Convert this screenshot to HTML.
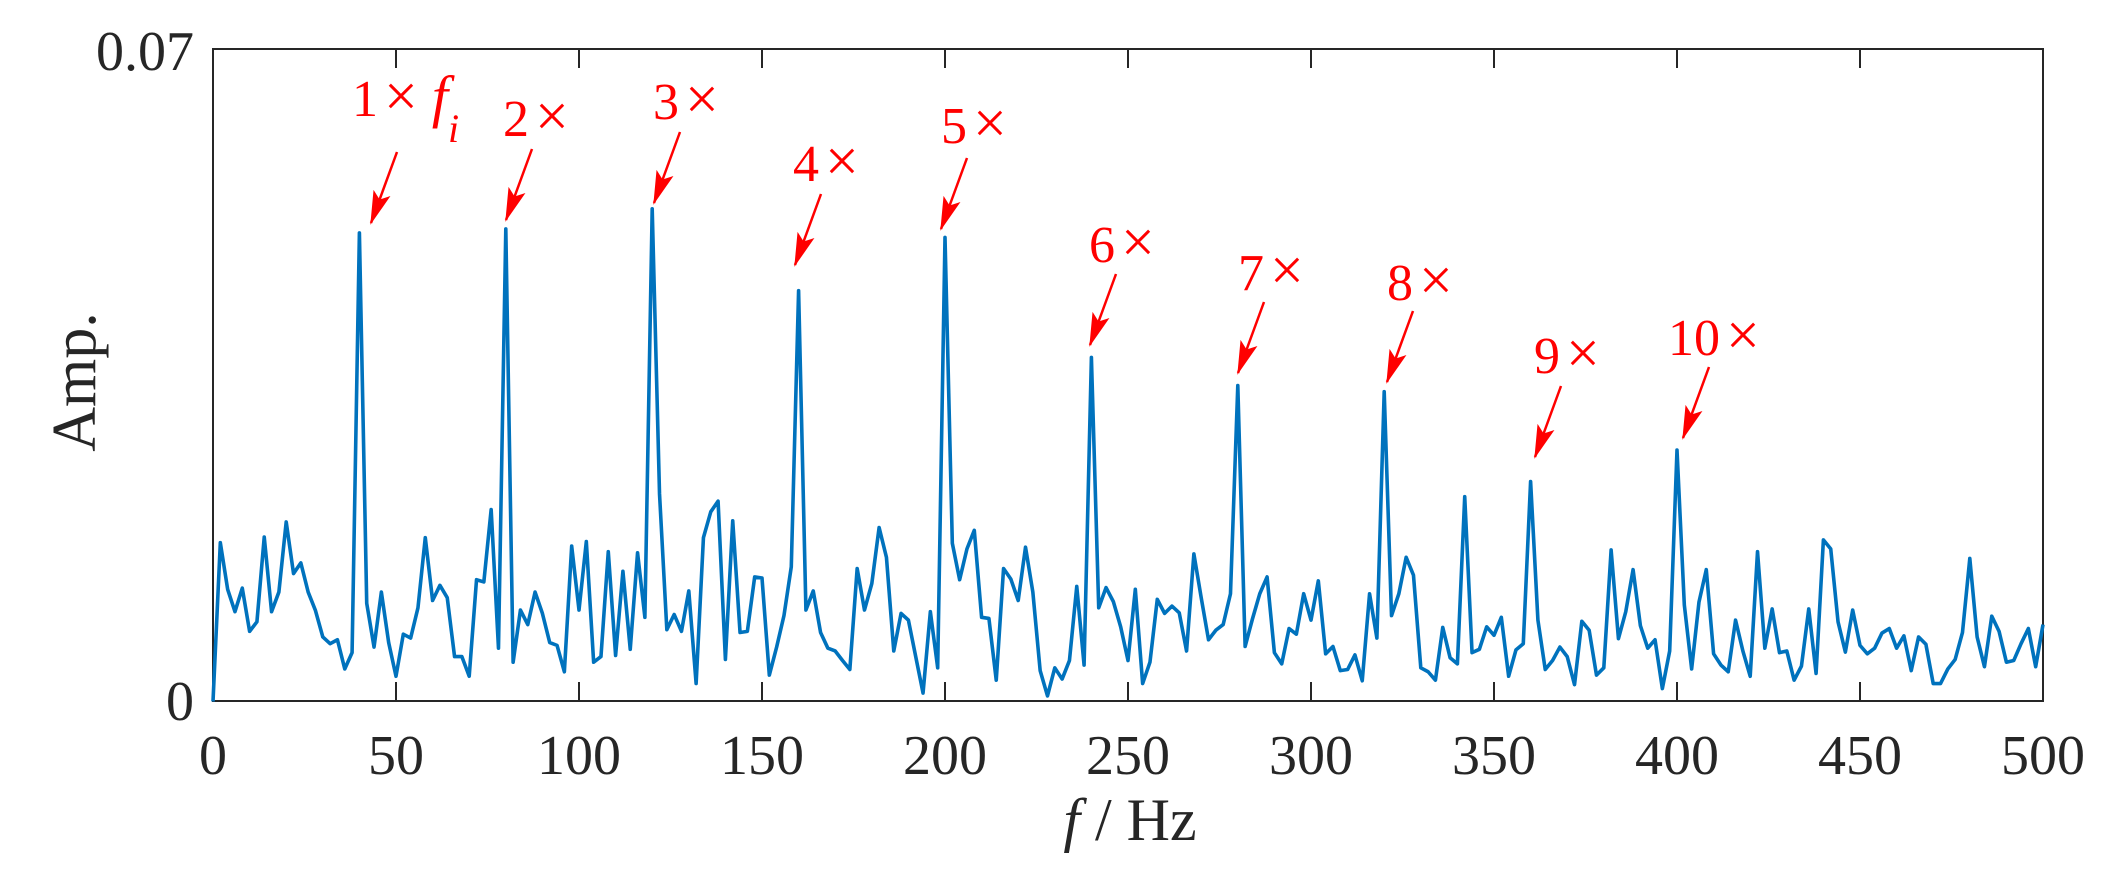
<!DOCTYPE html>
<html><head><meta charset="utf-8"><style>
html,body{margin:0;padding:0;background:#fff;}
svg{display:block;}
text{font-family:"Liberation Serif","Times New Roman",serif;}
</style></head><body>
<svg width="2112" height="880" viewBox="0 0 2112 880" xmlns="http://www.w3.org/2000/svg">
<defs>
<marker id="ah" markerWidth="34" markerHeight="18" refX="32" refY="9" orient="auto" markerUnits="userSpaceOnUse">
<path d="M0,0 L34,9 L0,18 L7,9 Z" fill="#ff0000"/>
</marker>
</defs>
<rect x="213" y="49" width="1830" height="652" fill="none" stroke="#262626" stroke-width="2"/>
<g stroke="#262626" stroke-width="2">
<line x1="396" y1="701" x2="396" y2="682"/><line x1="579" y1="701" x2="579" y2="682"/><line x1="762" y1="701" x2="762" y2="682"/><line x1="945" y1="701" x2="945" y2="682"/><line x1="1128" y1="701" x2="1128" y2="682"/><line x1="1311" y1="701" x2="1311" y2="682"/><line x1="1494" y1="701" x2="1494" y2="682"/><line x1="1677" y1="701" x2="1677" y2="682"/><line x1="1860" y1="701" x2="1860" y2="682"/>
<line x1="396" y1="49" x2="396" y2="68"/><line x1="579" y1="49" x2="579" y2="68"/><line x1="762" y1="49" x2="762" y2="68"/><line x1="945" y1="49" x2="945" y2="68"/><line x1="1128" y1="49" x2="1128" y2="68"/><line x1="1311" y1="49" x2="1311" y2="68"/><line x1="1494" y1="49" x2="1494" y2="68"/><line x1="1677" y1="49" x2="1677" y2="68"/><line x1="1860" y1="49" x2="1860" y2="68"/>
</g>
<g transform="translate(213,0) scale(3.66,0.5612)">
<polyline fill="none" stroke="#0072BD" stroke-width="3.6" vector-effect="non-scaling-stroke" stroke-linejoin="round" points="0,1250 2,967 4,1050 6,1090 8,1048 10,1125 12,1108 14,957 16,1090 18,1055 20,930 22,1022 24,1003 26,1055 28,1088 30,1135 32,1147 34,1140 36,1192 38,1163 40,415 42,1075 44,1153 46,1055 48,1145 50,1205 52,1130 54,1137 56,1083 58,958 60,1070 62,1043 64,1065 66,1170 68,1170 70,1205 72,1033 74,1037 76,908 78,1155 80,408 82,1180 84,1087 86,1113 88,1055 90,1093 92,1145 94,1150 96,1197 98,973 100,1087 102,965 104,1180 106,1170 108,983 110,1168 112,1018 114,1157 116,985 118,1100 120,372 122,880 124,1122 126,1095 128,1125 130,1053 132,1218 134,958 136,912 138,893 140,1175 142,928 144,1127 146,1125 148,1028 150,1030 152,1203 154,1153 156,1097 158,1010 160,518 162,1087 164,1053 166,1127 168,1155 170,1160 172,1177 174,1193 176,1013 178,1087 180,1040 182,940 184,993 186,1160 188,1093 190,1105 192,1170 194,1235 196,1090 198,1190 200,423 202,968 204,1033 206,978 208,945 210,1100 212,1102 214,1212 216,1013 218,1032 220,1070 222,975 224,1055 226,1195 228,1240 230,1190 232,1210 234,1177 236,1045 238,1185 240,637 242,1083 244,1047 246,1072 248,1117 250,1177 252,1050 254,1218 256,1180 258,1068 260,1093 262,1080 264,1092 266,1160 268,987 270,1065 272,1140 274,1123 276,1113 278,1058 280,687 282,1152 284,1103 286,1058 288,1028 290,1163 292,1183 294,1120 296,1130 298,1058 300,1105 302,1035 304,1165 306,1152 308,1195 310,1193 312,1167 314,1213 316,1058 318,1137 320,698 322,1097 324,1058 326,993 328,1025 330,1190 332,1197 334,1212 336,1118 338,1172 340,1183 342,885 344,1163 346,1157 348,1117 350,1132 352,1100 354,1205 356,1158 358,1147 360,858 362,1105 364,1193 366,1177 368,1153 370,1170 372,1220 374,1107 376,1123 378,1203 380,1190 382,980 384,1138 386,1090 388,1015 390,1115 392,1155 394,1140 396,1227 398,1160 400,802 402,1078 404,1192 406,1073 408,1015 410,1165 412,1185 414,1197 416,1105 418,1160 420,1205 422,983 424,1155 426,1085 428,1163 430,1160 432,1212 434,1187 436,1085 438,1200 440,962 442,978 444,1108 446,1162 448,1087 450,1150 452,1165 454,1155 456,1128 458,1120 460,1155 462,1133 464,1195 466,1135 468,1148 470,1218 472,1218 474,1192 476,1175 478,1127 480,995 482,1135 484,1188 486,1098 488,1125 490,1180 492,1177 494,1147 496,1120 498,1188 500,1113"/>
</g>
<g fill="#262626" font-size="56">
<text x="194" y="70" text-anchor="end">0.07</text>
<text x="194" y="720" text-anchor="end">0</text>
<g text-anchor="middle">
<text x="213" y="774">0</text><text x="396" y="774">50</text><text x="579" y="774">100</text><text x="762" y="774">150</text><text x="945" y="774">200</text><text x="1128" y="774">250</text><text x="1311" y="774">300</text><text x="1494" y="774">350</text><text x="1677" y="774">400</text><text x="1860" y="774">450</text><text x="2043" y="774">500</text>
</g>
<text x="0" y="0" transform="translate(95,382) rotate(-90)" text-anchor="middle" font-size="62">Amp.</text>
<text x="1130" y="840" text-anchor="middle" font-size="60"><tspan font-style="italic">f</tspan> /  Hz</text>
</g>
<g fill="#ff0000" font-size="52">
<text x="352" y="116">1<tspan dx="6" font-size="60">×</tspan><tspan dx="14" font-style="italic" font-size="58">f</tspan><tspan font-style="italic" font-size="40" dy="26">i</tspan></text>
<text x="503" y="136">2<tspan dx="6" font-size="60">×</tspan></text>
<text x="653" y="119">3<tspan dx="6" font-size="60">×</tspan></text>
<text x="793" y="181">4<tspan dx="6" font-size="60">×</tspan></text>
<text x="941" y="143">5<tspan dx="6" font-size="60">×</tspan></text>
<text x="1089" y="262">6<tspan dx="6" font-size="60">×</tspan></text>
<text x="1238" y="290">7<tspan dx="6" font-size="60">×</tspan></text>
<text x="1387" y="300">8<tspan dx="6" font-size="60">×</tspan></text>
<text x="1534" y="373">9<tspan dx="6" font-size="60">×</tspan></text>
<text x="1668" y="355">10<tspan dx="6" font-size="60">×</tspan></text>
</g>
<g stroke="#ff0000" stroke-width="2.5" marker-end="url(#ah)">
<line x1="397" y1="152" x2="371" y2="223"/>
<line x1="532" y1="149" x2="506" y2="220"/>
<line x1="680" y1="132" x2="654" y2="203"/>
<line x1="821" y1="194" x2="795" y2="265"/>
<line x1="967" y1="158" x2="941" y2="229"/>
<line x1="1116" y1="274" x2="1090" y2="345"/>
<line x1="1264" y1="302" x2="1238" y2="373"/>
<line x1="1413" y1="311" x2="1387" y2="382"/>
<line x1="1561" y1="386" x2="1535" y2="457"/>
<line x1="1709" y1="367" x2="1683" y2="438"/>
</g>
</svg>
</body></html>
